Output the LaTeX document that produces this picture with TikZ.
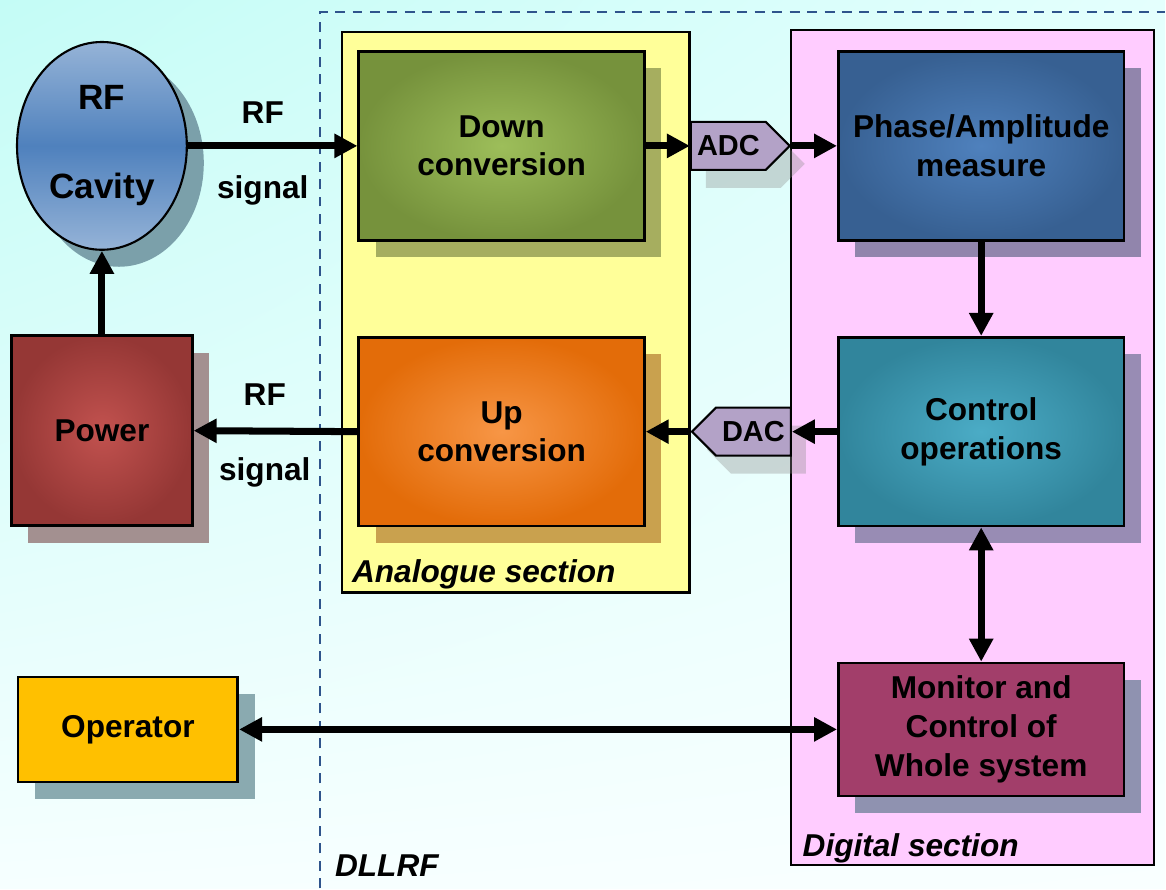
\documentclass[tikz,border=0pt]{standalone}
\usepackage{fontspec}
\setmainfont{Liberation Sans}
\usetikzlibrary{arrows.meta,shapes.geometric,shapes.symbols,shadows,shadings}

\definecolor{bgtl}{RGB}{196,252,246}
\definecolor{bgtr}{RGB}{228,255,253}
\definecolor{bgbl}{RGB}{246,255,255}
\definecolor{bgbr}{RGB}{249,255,255}
\definecolor{dashblue}{RGB}{47,84,140}
\definecolor{anayellow}{RGB}{255,255,153}
\definecolor{digpink}{RGB}{255,204,255}
\definecolor{converter}{RGB}{179,162,199}
% box fills: centre / rim / shadow
\definecolor{cavlight}{RGB}{149,179,215}
\definecolor{cavdark}{RGB}{79,129,189}
\definecolor{cavshad}{RGB}{123,160,170}
\definecolor{powin}{RGB}{194,82,79}
\definecolor{powout}{RGB}{149,55,53}
\definecolor{powshad}{RGB}{163,144,144}
\definecolor{downin}{RGB}{157,190,90}
\definecolor{downout}{RGB}{118,146,60}
\definecolor{downshad}{RGB}{166,174,95}
\definecolor{upin}{RGB}{247,150,70}
\definecolor{upout}{RGB}{227,108,9}
\definecolor{upshad}{RGB}{201,161,78}
\definecolor{phasein}{RGB}{79,129,189}
\definecolor{phaseout}{RGB}{55,96,146}
\definecolor{phaseshad}{RGB}{145,133,172}
\definecolor{ctrlin}{RGB}{75,172,198}
\definecolor{ctrlout}{RGB}{49,133,156}
\definecolor{ctrlshad}{RGB}{152,140,180}
\definecolor{monfill}{RGB}{162,62,106}
\definecolor{monshad}{RGB}{143,146,176}
\definecolor{opfill}{RGB}{255,192,0}
\definecolor{opshad}{RGB}{138,170,176}

\begin{document}
\begin{tikzpicture}[x=0.02cm, y=-0.02cm,
    blk/.style={draw=black, line width=1.5pt, inner sep=0pt, align=center,
        minimum width=5.72cm, minimum height=3.78cm,
        font=\fontsize{18}{22}\selectfont\bfseries},
    glow/.style={inner color=#1in, outer color=#1out},
    shad/.style={drop shadow={shadow xshift=0.34cm, shadow yshift=-0.34cm,
        fill=#1, opacity=1}},
    conv/.style={signal, draw=black, line width=1.2pt, fill=converter,
        inner sep=0pt, minimum width=1.98cm, minimum height=0.96cm,
        font=\fontsize{16.5}{20}\selectfont\bfseries,
        drop shadow={shadow xshift=0.3cm, shadow yshift=-0.36cm,
        fill=black!45, opacity=0.35}},
    lbl/.style={align=center, inner sep=0pt, font=\fontsize{18}{42.7}\selectfont\bfseries},
    sect/.style={inner sep=0pt, font=\fontsize{18}{22}\selectfont\bfseries\itshape},
    wire/.style={line width=4pt, -{Triangle[length=0.46cm,width=0.46cm]}},
    both/.style={line width=4pt, {Triangle[length=0.46cm,width=0.46cm]}-{Triangle[length=0.46cm,width=0.46cm]}}]

    % background and the DLLRF border
    \shade[upper left=bgtl, upper right=bgtr, lower left=bgbl, lower right=bgbr]
        (0,0) rectangle (1166,889);
    \draw[dashblue, line width=1.1pt, dash pattern=on 0.2cm off 0.15cm]
        (320,889) -- (320,12) -- (1166,12);

    % sections
    \draw[fill=anayellow, line width=1.3pt] (342,32) rectangle (690,593);
    \draw[fill=digpink, line width=1.3pt] (792,30) rectangle (1155,866);

    % cavity and power
    \node[ellipse, draw=black, line width=1.2pt, inner sep=0pt,
        minimum width=3.4cm, minimum height=4.16cm,
        top color=cavlight, bottom color=cavlight, middle color=cavdark,
        shad=cavshad, align=center, font=\fontsize{20}{50.7}\selectfont\bfseries]
        (cav) at (102,146) {RF\\Cavity};
    \node[blk, minimum width=3.62cm, minimum height=3.8cm, glow=pow, shad=powshad]
        (power) at (102,431) {Power};

    % analogue section
    \node[blk, glow=down, shad=downshad] (down) at (502,146) {Down\\conversion};
    \node[blk, glow=up, shad=upshad] (up) at (502,432) {Up\\conversion};

    % converters
    \node[conv, signal to=east] (adc) at (729,146) {ADC};
    \node[conv, signal to=west] (dac) at (754,432) {DAC};

    % digital section
    \node[blk, glow=phase, shad=phaseshad] (phase) at (982,146) {Phase/Amplitude\\measure};
    \node[blk, glow=ctrl, shad=ctrlshad] (ctrl) at (982,432) {Control\\operations};
    \node[blk, minimum height=2.66cm, fill=monfill, shad=monshad]
        (mon) at (982,730) {Monitor and\\Control of\\Whole system};

    \node[blk, minimum width=4.4cm, minimum height=2.1cm, fill=opfill, shad=opshad]
        (op) at (128,730) {Operator};

    % labels
    \node[lbl] (sigin) at (263,154) {RF\\signal};
    \node[lbl] (sigout) at (265,436) {RF\\signal};
    \node[sect, anchor=base west] (analab) at (352,583) {Analogue section};
    \node[sect, anchor=base west] (diglab) at (803,857) {Digital section};
    \node[sect, anchor=base west] (dllrf) at (335,877) {DLLRF};

    % signal flow
    \foreach \a/\b in {cav.east/down.west, down.east/adc.west, adc.east/phase.west,
        phase.south/ctrl.north, ctrl.west/dac.east, dac.west/up.east,
        up.west/power.east, power.north/cav.south}{
        \draw[wire] (\a) -- (\b);
    }
    \foreach \a/\b in {ctrl.south/mon.north, op.east/mon.west}{
        \draw[both] (\a) -- (\b);
    }
\end{tikzpicture}
\end{document}
